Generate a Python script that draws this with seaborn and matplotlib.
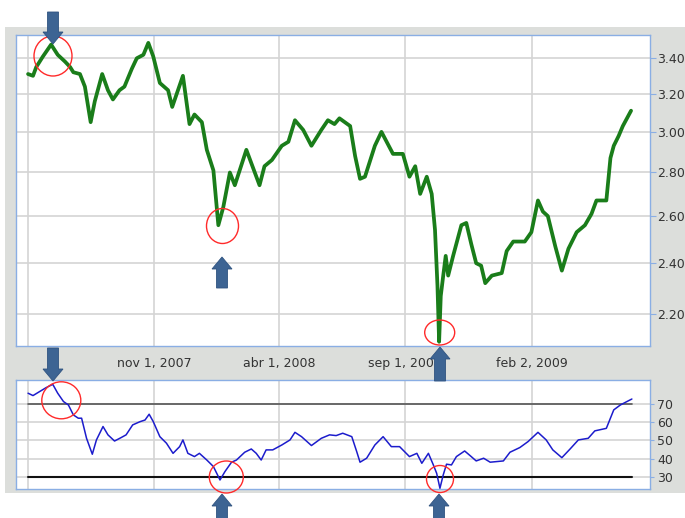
import matplotlib
matplotlib.use("Agg")
import matplotlib.pyplot as plt
import seaborn as sns
import pandas as pd
from matplotlib.patches import Ellipse, Polygon, Rectangle
from matplotlib.ticker import NullLocator

# ---------------- data ----------------
price_dates = [
    "2007-06-01", "2007-06-07", "2007-06-11", "2007-06-19", "2007-06-29", "2007-07-07",
    "2007-07-16", "2007-07-22", "2007-07-26", "2007-08-03", "2007-08-09", "2007-08-16",
    "2007-08-21", "2007-08-30", "2007-09-06", "2007-09-12", "2007-09-20", "2007-09-26",
    "2007-10-05", "2007-10-11", "2007-10-19", "2007-10-25", "2007-10-31", "2007-11-08",
    "2007-11-18", "2007-11-23", "2007-12-06", "2007-12-14", "2007-12-20", "2007-12-29",
    "2008-01-04", "2008-01-12", "2008-01-18", "2008-01-24", "2008-02-01", "2008-02-07",
    "2008-02-21", "2008-03-08", "2008-03-14", "2008-03-23", "2008-04-04", "2008-04-12",
    "2008-04-20", "2008-04-30", "2008-05-10", "2008-05-22", "2008-05-30", "2008-06-07",
    "2008-06-13", "2008-06-26", "2008-07-02", "2008-07-08", "2008-07-14", "2008-07-26",
    "2008-08-03", "2008-08-17", "2008-08-29", "2008-09-06", "2008-09-13", "2008-09-19",
    "2008-09-27", "2008-10-03", "2008-10-07", "2008-10-10", "2008-10-12", "2008-10-14",
    "2008-10-17", "2008-10-20", "2008-10-23", "2008-10-29", "2008-11-08", "2008-11-14",
    "2008-11-20", "2008-11-26", "2008-12-02", "2008-12-07", "2008-12-15", "2008-12-27",
    "2009-01-02", "2009-01-10", "2009-01-24", "2009-02-01", "2009-02-09", "2009-02-15",
    "2009-02-21", "2009-03-02", "2009-03-10", "2009-03-18", "2009-03-28", "2009-04-07",
    "2009-04-15", "2009-04-21", "2009-05-03", "2009-05-08", "2009-05-12", "2009-05-18",
    "2009-05-23", "2009-06-02",
]
price_values = [
    3.31, 3.30, 3.35, 3.41, 3.48, 3.42,
    3.38, 3.35, 3.32, 3.31, 3.24, 3.05,
    3.16, 3.31, 3.22, 3.17, 3.22, 3.24,
    3.34, 3.40, 3.42, 3.49, 3.41, 3.26,
    3.22, 3.13, 3.30, 3.04, 3.09, 3.05,
    2.91, 2.81, 2.56, 2.64, 2.80, 2.74,
    2.91, 2.74, 2.83, 2.86, 2.93, 2.95,
    3.06, 3.01, 2.93, 3.01, 3.06, 3.04,
    3.07, 3.03, 2.88, 2.77, 2.78, 2.93,
    3.00, 2.89, 2.89, 2.78, 2.83, 2.70,
    2.78, 2.70, 2.54, 2.31, 2.10, 2.27,
    2.35, 2.43, 2.35, 2.43, 2.56, 2.57,
    2.48, 2.40, 2.39, 2.32, 2.35, 2.36,
    2.45, 2.49, 2.49, 2.53, 2.67, 2.62,
    2.60, 2.47, 2.37, 2.46, 2.53, 2.56,
    2.61, 2.67, 2.67, 2.87, 2.93, 2.98,
    3.03, 3.11,
]

rsi_dates = [
    "2007-06-01", "2007-06-07", "2007-06-15", "2007-06-23", "2007-07-01", "2007-07-07",
    "2007-07-14", "2007-07-20", "2007-07-26", "2007-08-01", "2007-08-05", "2007-08-11",
    "2007-08-18", "2007-08-23", "2007-08-31", "2007-09-06", "2007-09-14", "2007-09-22",
    "2007-09-28", "2007-10-06", "2007-10-15", "2007-10-21", "2007-10-26", "2007-10-31",
    "2007-11-08", "2007-11-16", "2007-11-24", "2007-12-02", "2007-12-06", "2007-12-12",
    "2007-12-20", "2007-12-26", "2008-01-04", "2008-01-12", "2008-01-20", "2008-01-26",
    "2008-02-03", "2008-02-09", "2008-02-19", "2008-02-27", "2008-03-04", "2008-03-10",
    "2008-03-16", "2008-03-24", "2008-04-04", "2008-04-14", "2008-04-20", "2008-04-28",
    "2008-05-10", "2008-05-22", "2008-06-01", "2008-06-09", "2008-06-17", "2008-06-28",
    "2008-07-04", "2008-07-08", "2008-07-16", "2008-07-26", "2008-08-05", "2008-08-15",
    "2008-08-25", "2008-09-06", "2008-09-15", "2008-09-21", "2008-09-29", "2008-10-05",
    "2008-10-09", "2008-10-13", "2008-10-17", "2008-10-21", "2008-10-27", "2008-11-02",
    "2008-11-12", "2008-11-20", "2008-11-26", "2008-12-05", "2008-12-13", "2008-12-29",
    "2009-01-06", "2009-01-18", "2009-01-28", "2009-02-09", "2009-02-19", "2009-02-27",
    "2009-03-10", "2009-03-20", "2009-03-30", "2009-04-11", "2009-04-19", "2009-05-03",
    "2009-05-12", "2009-05-20", "2009-05-28", "2009-06-03",
]
rsi_values = [
    76.1, 74.8, 77.0, 79.2, 81.0, 76.1,
    71.5, 69.6, 64.1, 62.3, 62.3, 51.2,
    42.4, 50.3, 57.7, 53.1, 49.7, 51.6,
    53.1, 58.6, 60.4, 61.3, 64.5, 60.4,
    52.1, 48.5, 42.9, 46.6, 50.3, 42.9,
    41.1, 42.9, 39.2, 35.6, 28.2, 32.8,
    38.0, 39.2, 43.5, 45.3, 42.9, 39.2,
    44.8, 44.8, 47.5, 50.3, 54.5, 52.1,
    47.2, 51.2, 53.1, 52.7, 54.0, 52.1,
    43.8, 38.0, 40.2, 47.5, 52.1, 46.6,
    46.6, 41.1, 42.9, 37.4, 42.9, 36.5,
    31.9, 23.6, 31.0, 36.9, 36.5, 41.1,
    44.2, 41.1, 38.7, 40.2, 38.0, 38.7,
    43.5, 46.1, 49.4, 54.5, 50.3, 44.8,
    40.5, 45.3, 50.3, 51.2, 55.3, 56.7,
    66.9, 69.6, 71.5, 72.9,
]

rsi_levels = [70, 30]
price_ticks = [2.20, 2.40, 2.60, 2.80, 3.00, 3.20, 3.40]
rsi_ticks = [30, 40, 50, 60, 70]
date_ticks = ["2007-06-01", "2007-11-01", "2008-04-01", "2008-09-01", "2009-02-02"]
date_labels = ["", "nov 1, 2007", "abr 1, 2008", "sep 1, 2008", "feb 2, 2009"]

# ---------------- style ----------------
sns.set_style("white")
plt.rcParams["font.family"] = ["DejaVu Sans"]

W, H = 685, 518
GREEN = "#1a7d1a"
BLUE = "#1c1ccc"
SPINE = "#8aaee4"
GRID = "#d4d4d4"
TXT = "#333333"
ARROW = "#3d6493"

df_price = pd.DataFrame({"date": pd.to_datetime(price_dates), "price": price_values})
df_rsi = pd.DataFrame({"date": pd.to_datetime(rsi_dates), "rsi": rsi_values})

fig = plt.figure(figsize=(W / 100, H / 100), dpi=100)
fig.patch.set_facecolor("white")

def fx(x):
    return x / W

def fy(y):
    return 1 - y / H

# gray panel background
fig.add_artist(Rectangle((fx(5), fy(493)), fx(W - 5), (493 - 27) / H,
                         transform=fig.transFigure, facecolor="#dcdedb",
                         edgecolor="none", zorder=0))

ax1 = fig.add_axes([fx(15.7), fy(346), (650 - 15.7) / W, (346 - 35) / H])
ax2 = fig.add_axes([fx(15.7), fy(489), (650 - 15.7) / W, (489 - 380) / H])

xmin, xmax = pd.Timestamp("2007-05-17"), pd.Timestamp("2009-06-25")

sns.lineplot(data=df_price, x="date", y="price", ax=ax1, color=GREEN, lw=2.7,
             zorder=3)
ax1.set_yscale("log")
ax1.set_ylim(2.085, 3.537)
ax1.set_xlim(xmin, xmax)

sns.lineplot(data=df_rsi, x="date", y="rsi", ax=ax2, color=BLUE, lw=1.1, zorder=3)
first, last = df_rsi["date"].iloc[0], df_rsi["date"].iloc[-1]
ax2.plot([first, last], [rsi_levels[0]] * 2, color="#555555", lw=1.2, zorder=2)
ax2.plot([first, last], [rsi_levels[1]] * 2, color="#111111", lw=1.5, zorder=2)
ax2.set_ylim(23.2, 83.4)
ax2.set_xlim(xmin, xmax)

for ax in (ax1, ax2):
    ax.set_facecolor("white")
    ax.set_xlabel("")
    ax.set_ylabel("")
    ax.yaxis.tick_right()
    ax.set_axisbelow(True)
    ax.grid(True, color=GRID, lw=1.2)
    for s in ax.spines.values():
        s.set_color(SPINE)
        s.set_linewidth(1.0)
    ax.set_xticks(pd.to_datetime(date_ticks))
    ax.xaxis.set_minor_locator(NullLocator())
    ax.yaxis.set_minor_locator(NullLocator())

ax1.set_yticks(price_ticks)
ax1.set_yticklabels([f"{v:.2f}" for v in price_ticks])
ax1.yaxis.set_minor_locator(NullLocator())
ax1.set_xticklabels(date_labels)
ax1.tick_params(axis="y", direction="out", length=4, color=SPINE, pad=1,
                labelsize=9, labelcolor=TXT)
ax1.tick_params(axis="x", direction="out", length=3, color=SPINE, pad=5,
                labelsize=9, labelcolor=TXT)

ax2.set_yticks(rsi_ticks)
ax2.set_yticklabels([str(v) for v in rsi_ticks])
ax2.set_xticklabels([""] * len(date_ticks))
ax2.tick_params(axis="y", direction="out", length=3, color=SPINE, pad=2,
                labelsize=9, labelcolor=TXT)
ax2.tick_params(axis="x", length=0)

# ---------------- annotations (red circles, blue arrows) ----------------
def ellipse(cx, cy, w, h):
    fig.add_artist(Ellipse((fx(cx), fy(cy)), w / W, h / H, transform=fig.transFigure,
                           fill=False, edgecolor="#ff2a2a", lw=1.0, zorder=10))

def arrow(x, tip, tail):
    sw, hw, hl = 5.5, 10.0, 12.0
    d = 1 if tail < tip else -1  # 1 = pointing down
    base = tip - d * hl
    pts = [(x - sw, tail), (x + sw, tail), (x + sw, base), (x + hw, base),
           (x, tip), (x - hw, base), (x - sw, base)]
    fig.add_artist(Polygon([(fx(a), fy(b)) for a, b in pts], closed=True,
                           transform=fig.transFigure, facecolor=ARROW,
                           edgecolor="#2f5380", lw=0.6, zorder=11))

ellipse(53, 56, 38, 40)
ellipse(222.5, 226, 32, 35)
ellipse(439.7, 332.5, 30, 25)
ellipse(61.3, 400.3, 39, 37)
ellipse(226.3, 477, 34, 32)
ellipse(440, 479, 27, 27)

arrow(53, 44, 12)
arrow(222, 257, 288)
arrow(440, 347, 381)
arrow(53, 381, 348)
arrow(222, 494, 520)
arrow(439, 494, 520)

fig.savefig("out.png", dpi=100, facecolor="white")
